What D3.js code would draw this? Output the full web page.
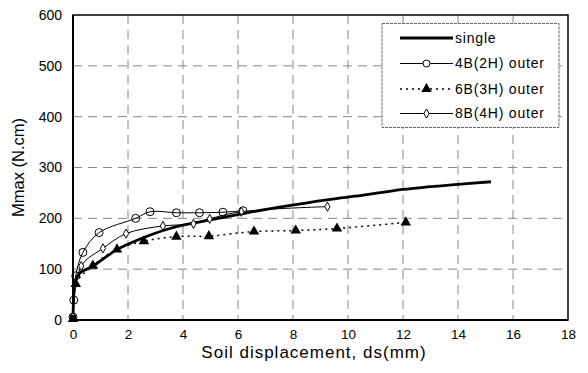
<!DOCTYPE html>
<html>
<head>
<meta charset="utf-8">
<script src="https://cdn.jsdelivr.net/npm/d3@7"></script>
<style>
  body { margin: 0; background: #fff; }
  svg { font-family: "Liberation Sans", Arial, sans-serif; }
</style>
</head>
<body>
<svg id="chart"></svg>
<script>
const width = 588;
const height = 373;
const margin = { top: 15, right: 20, bottom: 53, left: 73 };

// data: [ds (mm), Mmax (N.cm)]
const singleData = [[0, 0], [0.02, 40], [0.06, 72], [0.24, 92], [0.73, 106], [1.58, 138], [2.42, 159],
  [3.52, 180], [4.5, 192], [5.94, 207], [7.5, 222], [9.3, 237], [10.5, 245], [12, 257], [14, 267], [15.2, 272]];
const b4Data = [[0, 6], [0.03, 39], [0.1, 87], [0.36, 133], [0.95, 172], [2.28, 200], [2.8, 213],
  [3.76, 211], [4.6, 211], [5.45, 212], [6.18, 215]];
const b6Data = [[0, 2], [0.1, 71], [0.72, 107], [1.6, 139], [2.58, 155], [3.76, 164], [4.94, 165],
  [6.58, 174], [8.1, 176], [9.6, 180], [12.1, 192]];
const b8Data = [[0, 6], [0.3, 106], [1.09, 141], [1.93, 170], [3.27, 185], [4.38, 189], [4.97, 199],
  [6.12, 213], [9.25, 223]];

const xTicks = [0, 2, 4, 6, 8, 10, 12, 14, 16, 18];
const yTicks = [0, 100, 200, 300, 400, 500, 600];
const legendLabels = ["single", "4B(2H) outer", "6B(3H) outer", "8B(4H) outer"];

const svg = d3.select("#chart")
    .attr("width", width)
    .attr("height", height);

const xScale = d3.scaleLinear()
    .domain([0, 18])
    .range([margin.left, width - margin.right]);

const yScale = d3.scaleLinear()
    .domain([0, 600])
    .range([height - margin.bottom, margin.top]);

// grid lines
svg.append("g")
    .selectAll("line.vgrid")
    .data(xTicks.slice(1, -1))
    .join("line")
    .attr("x1", d => xScale(d))
    .attr("x2", d => xScale(d))
    .attr("y1", yScale(600))
    .attr("y2", yScale(0))
    .attr("stroke", "#888")
    .attr("stroke-width", 1)
    .attr("stroke-dasharray", "9,6");

svg.append("g")
    .selectAll("line.hgrid")
    .data(yTicks.slice(1, -1))
    .join("line")
    .attr("x1", xScale(0))
    .attr("x2", xScale(18))
    .attr("y1", d => yScale(d))
    .attr("y2", d => yScale(d))
    .attr("stroke", "#888")
    .attr("stroke-width", 1)
    .attr("stroke-dasharray", "9,6");

// axes (labels only)
svg.append("g")
    .attr("transform", `translate(0, ${yScale(0)})`)
    .call(d3.axisBottom(xScale).tickValues(xTicks).tickSize(0).tickPadding(9))
    .call(g => g.select(".domain").remove())
    .attr("font-size", "13.5px")
    .attr("font-family", "Liberation Sans, Arial, sans-serif");

svg.append("g")
    .attr("transform", `translate(${xScale(0)}, 0)`)
    .call(d3.axisLeft(yScale).tickValues(yTicks).tickSize(0).tickPadding(11))
    .call(g => g.select(".domain").remove())
    .attr("font-size", "14px")
    .attr("font-family", "Liberation Sans, Arial, sans-serif");

// plot frame
svg.append("rect")
    .attr("x", xScale(0))
    .attr("y", yScale(600))
    .attr("width", xScale(18) - xScale(0))
    .attr("height", yScale(0) - yScale(600))
    .attr("fill", "none")
    .attr("stroke", "#000")
    .attr("stroke-width", 1.5);

svg.append("line")
    .attr("x1", xScale(0)).attr("x2", xScale(0))
    .attr("y1", yScale(600)).attr("y2", yScale(0))
    .attr("stroke", "#000").attr("stroke-width", 2);
svg.append("line")
    .attr("x1", xScale(0)).attr("x2", xScale(18))
    .attr("y1", yScale(0)).attr("y2", yScale(0))
    .attr("stroke", "#000").attr("stroke-width", 2);

// axis titles
svg.append("text")
    .attr("x", 314)
    .attr("y", 358)
    .attr("text-anchor", "middle")
    .attr("font-size", "17px")
    .attr("letter-spacing", "1px")
    .text("Soil displacement, ds(mm)");

svg.append("text")
    .attr("transform", `translate(24, ${yScale(300)}) rotate(-90)`)
    .attr("text-anchor", "middle")
    .attr("font-size", "16.5px")
    .text("Mmax (N.cm)");

const line = d3.line()
    .x(d => xScale(d[0]))
    .y(d => yScale(d[1]))
    .curve(d3.curveCatmullRom.alpha(0.5));

const plot = svg.append("g");

plot.append("path").datum(b6Data)
    .attr("d", line).attr("fill", "none")
    .attr("stroke", "#000").attr("stroke-width", 1.5)
    .attr("stroke-dasharray", "2,4");

plot.append("path").datum(b8Data)
    .attr("d", line).attr("fill", "none")
    .attr("stroke", "#000").attr("stroke-width", 1);

plot.append("path").datum(b4Data)
    .attr("d", line).attr("fill", "none")
    .attr("stroke", "#000").attr("stroke-width", 1);

plot.append("path").datum(singleData)
    .attr("d", line).attr("fill", "none")
    .attr("stroke", "#000").attr("stroke-width", 2.8);

// markers
const triangle = d3.symbol().type(d3.symbolTriangle).size(48);
const diamond = d3.symbol().type(d3.symbolDiamond).size(24);

plot.append("g")
    .selectAll("path")
    .data(b6Data)
    .join("path")
    .attr("d", triangle)
    .attr("transform", d => `translate(${xScale(d[0])}, ${yScale(d[1])})`)
    .attr("fill", "#000");

plot.append("g")
    .selectAll("path")
    .data(b8Data)
    .join("path")
    .attr("d", diamond)
    .attr("transform", d => `translate(${xScale(d[0])}, ${yScale(d[1])})`)
    .attr("fill", "#fff")
    .attr("stroke", "#000")
    .attr("stroke-width", 1);

plot.append("g")
    .selectAll("circle")
    .data(b4Data)
    .join("circle")
    .attr("cx", d => xScale(d[0]))
    .attr("cy", d => yScale(d[1]))
    .attr("r", 4)
    .attr("fill", "none")
    .attr("stroke", "#000")
    .attr("stroke-width", 1);

plot.append("rect")
    .attr("x", xScale(0) - 3)
    .attr("y", yScale(0) - 5)
    .attr("width", 6)
    .attr("height", 6)
    .attr("fill", "#000");

// legend
const legend = svg.append("g");
legend.append("rect")
    .attr("x", 382)
    .attr("y", 23.5)
    .attr("width", 177)
    .attr("height", 104)
    .attr("fill", "#fff")
    .attr("stroke", "#666")
    .attr("stroke-width", 1)
    .attr("stroke-dasharray", "3,1");

const rows = [38, 63.5, 89, 113.5];
const lx1 = 400, lx2 = 453;

legendLabels.forEach((label, i) => {
    const y = rows[i];
    const row = legend.append("g");
    row.append("line")
        .attr("x1", lx1).attr("x2", lx2)
        .attr("y1", y).attr("y2", y)
        .attr("stroke", "#000")
        .attr("stroke-width", i === 0 ? 2.8 : (i === 2 ? 1.5 : 1))
        .attr("stroke-dasharray", i === 2 ? "2,4" : null);
    const mx = (lx1 + lx2) / 2;
    if (i === 1) {
        row.append("circle").attr("cx", mx).attr("cy", y).attr("r", 3.5)
            .attr("fill", "#fff").attr("stroke", "#000");
    } else if (i === 2) {
        row.append("path").attr("d", triangle)
            .attr("transform", `translate(${mx}, ${y})`).attr("fill", "#000");
    } else if (i === 3) {
        row.append("path").attr("d", diamond)
            .attr("transform", `translate(${mx}, ${y})`)
            .attr("fill", "#fff").attr("stroke", "#000");
    }
    row.append("text")
        .attr("x", 455)
        .attr("y", y)
        .attr("dy", "0.35em")
        .attr("font-size", "14px")
        .attr("letter-spacing", "0.8px")
        .text(label);
});
</script>
</body>
</html>
